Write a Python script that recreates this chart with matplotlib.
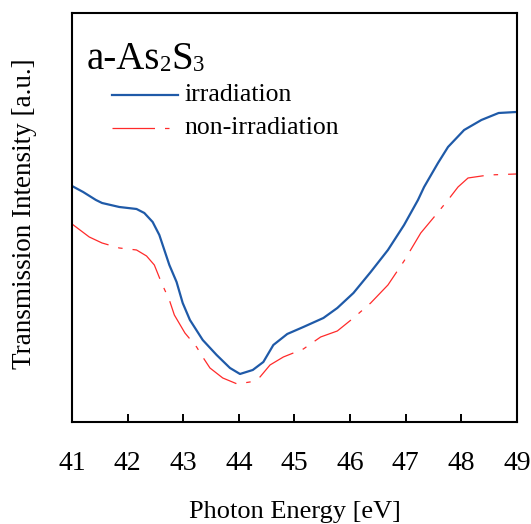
import matplotlib
matplotlib.use("Agg")
import matplotlib.pyplot as plt
import numpy as np

plt.rcParams['font.family'] = ['Liberation Serif', 'DejaVu Serif']

# Photon energy [eV] and transmission intensity (arbitrary units)
energy_irr = [41.00, 41.20, 41.43, 41.54, 41.85, 42.16, 42.30, 42.45, 42.57, 42.66,
              42.75, 42.88, 42.99, 43.12, 43.35, 43.60, 43.84, 44.02, 44.25, 44.44,
              44.62, 44.87, 45.16, 45.52, 45.77, 46.06, 46.37, 46.68, 46.97, 47.22,
              47.33, 47.58, 47.76, 48.05, 48.36, 48.67, 48.99]
inten_irr = [236, 230, 222, 219, 215, 213, 209, 200, 187, 172,
             157, 140, 119, 102, 82, 67, 54, 48, 52, 60,
             77, 88, 95, 104, 114, 129, 150, 172, 197, 222,
             235, 259, 275, 292, 302, 309, 310]

energy_non = [41.00, 41.31, 41.54, 41.85, 42.16, 42.34, 42.48, 42.61, 42.75, 42.84,
              43.03, 43.24, 43.35, 43.48, 43.71, 43.97, 44.20, 44.38, 44.56, 44.80,
              45.16, 45.47, 45.77, 46.06, 46.37, 46.68, 46.97, 47.27, 47.51, 47.76,
              47.94, 48.12, 48.49, 48.99]
inten_non = [198, 185, 179, 174, 172, 166, 157, 139, 122, 107,
             89, 75, 65, 54, 44, 38, 40, 45, 57, 65,
             73, 85, 91, 104, 119, 137, 161, 189, 205, 222,
             235, 244, 247, 248]

xticks = [41, 42, 43, 44, 45, 46, 47, 48, 49]

fig = plt.figure(figsize=(5.31, 5.24), dpi=100)
ax = fig.add_axes([0.1356, 0.1947, 0.838, 0.7805])

blue = '#1f5aa8'
red = '#ff2a2a'
ax.plot(energy_irr, inten_irr, color=blue, lw=1.6)
ax.plot(energy_non, inten_non, color=red, lw=0.9, dashes=(34, 8, 3.6, 8))

ax.set_xlim(41, 49)
ax.set_ylim(0, 409)
ax.set_xticks(xticks)
ax.set_xticklabels([str(t) for t in xticks])
ax.set_yticks([])
ax.tick_params(axis='x', direction='in', length=6, width=1.4, pad=21, labelsize=20)
for s in ax.spines.values():
    s.set_linewidth(1.5)

ax.set_xlabel('Photon Energy [eV]', fontsize=19, labelpad=18)
ax.set_ylabel('Transmission Intensity [a.u.]', fontsize=19.5)
ax.yaxis.set_label_coords(-0.079, 0.51)

# title inside the plot (small subscripts sitting near the baseline)
fig.canvas.draw()
renderer = fig.canvas.get_renderer()
x0, yb = 0.032, 0.862
pieces = [('a-As', 28, 0.0), ('2', 16.5, -0.003), ('S', 28, 0.0), ('3', 16.5, -0.003)]
xpos = x0
inv = ax.transAxes.inverted()
for txt, fs, dy in pieces:
    t = ax.text(xpos, yb + dy, txt, transform=ax.transAxes, fontsize=fs,
                ha='left', va='baseline')
    bb = t.get_window_extent(renderer=renderer)
    xpos = inv.transform((bb.x1, bb.y0))[0]

# legend drawn manually
lx0, lx1 = 0.090, 0.238
ax.plot([lx0, lx1], [0.800, 0.800], transform=ax.transAxes, color=blue, lw=1.6)
ax.plot([lx0, lx1], [0.719, 0.719], transform=ax.transAxes, color=red, lw=0.9,
        dashes=(34, 8, 3.6, 8))
ax.text(0.253, 0.800, 'irradiation', transform=ax.transAxes, fontsize=18.5,
        ha='left', va='center')
ax.text(0.253, 0.719, 'non-irradiation', transform=ax.transAxes, fontsize=18.5,
        ha='left', va='center')

fig.savefig('out.png', dpi=100)
